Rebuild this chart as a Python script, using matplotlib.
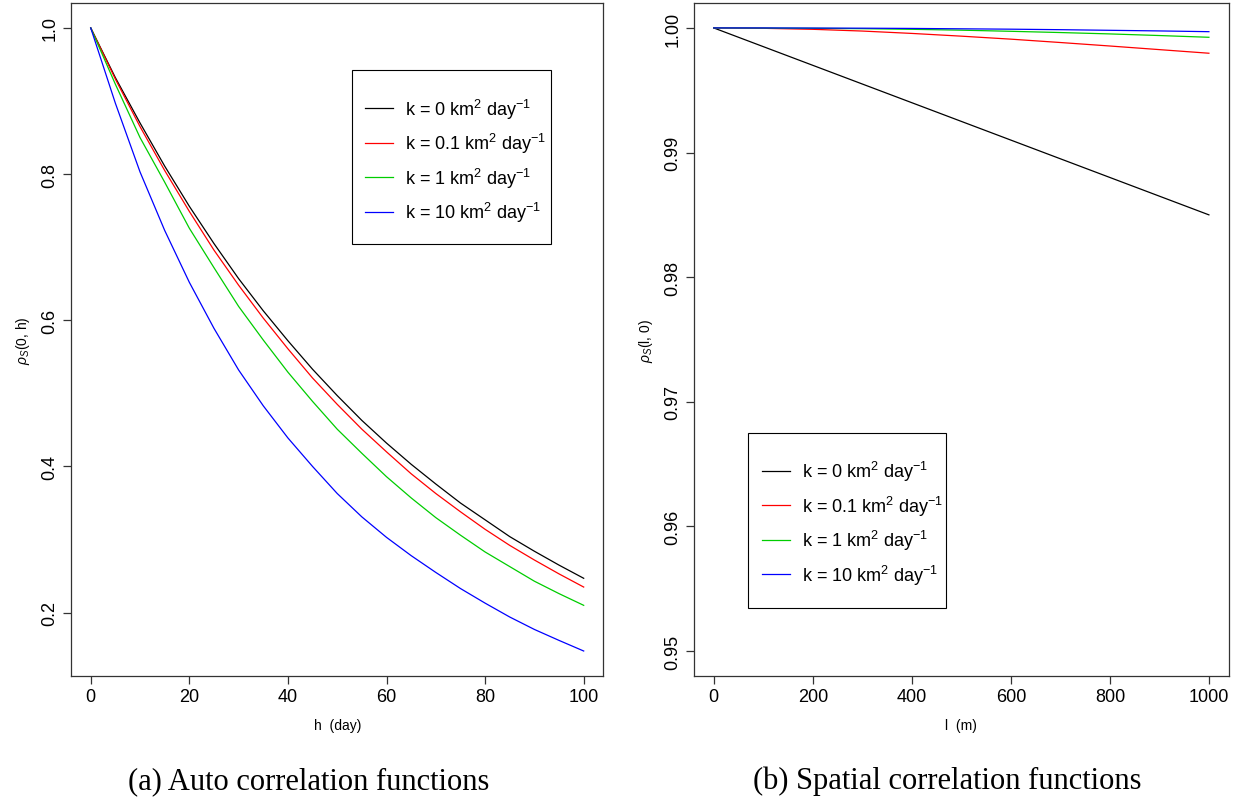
import numpy as np
import matplotlib
import matplotlib.pyplot as plt
from matplotlib.patches import Rectangle
matplotlib.use('Agg')

plt.rcParams['font.family'] = ['Liberation Sans', 'DejaVu Sans']
plt.rcParams['mathtext.fontset'] = 'custom'
plt.rcParams['mathtext.rm'] = 'Liberation Sans'
plt.rcParams['mathtext.it'] = 'Liberation Sans:italic'
plt.rcParams['mathtext.bf'] = 'Liberation Sans:bold'

# data
h_days = [0, 5, 10, 15, 20, 25, 30, 35, 40, 45, 50, 55, 60, 65, 70, 75, 80, 85, 90, 95, 100]
auto_k0 = [1.0, 0.932, 0.870, 0.811, 0.756, 0.705, 0.657, 0.613, 0.572, 0.533, 0.497,
           0.463, 0.432, 0.403, 0.376, 0.350, 0.327, 0.304, 0.284, 0.265, 0.247]
auto_k01 = [1.0, 0.930, 0.865, 0.805, 0.749, 0.696, 0.648, 0.603, 0.561, 0.521, 0.485,
            0.451, 0.420, 0.390, 0.363, 0.338, 0.314, 0.292, 0.272, 0.253, 0.235]
auto_k1 = [1.0, 0.923, 0.850, 0.789, 0.726, 0.672, 0.619, 0.573, 0.529, 0.489, 0.451,
           0.418, 0.386, 0.357, 0.330, 0.306, 0.283, 0.263, 0.243, 0.226, 0.210]
auto_k10 = [1.0, 0.897, 0.803, 0.723, 0.652, 0.589, 0.532, 0.483, 0.439, 0.400, 0.363,
            0.331, 0.303, 0.278, 0.255, 0.233, 0.213, 0.194, 0.177, 0.162, 0.1475]

l_m = [0, 100, 200, 300, 400, 500, 600, 700, 800, 900, 1000]
spat_k0 = [1.0, 0.9985, 0.9970, 0.9955, 0.9940, 0.9925, 0.9910, 0.9895, 0.9880, 0.9865, 0.9850]
spat_k01 = [1.0, 0.99997, 0.99989, 0.99975, 0.99956, 0.99934, 0.99910, 0.99883, 0.99855, 0.99826, 0.99797]
spat_k1 = [1.0, 0.99999, 0.99997, 0.99994, 0.99989, 0.99982, 0.99973, 0.99963, 0.99952, 0.99939, 0.99925]
spat_k10 = [1.0, 1.0, 0.99999, 0.99998, 0.99996, 0.99993, 0.99990, 0.99986, 0.99981, 0.99976, 0.99970]

labels = ['k = 0 km$^{2}$ day$^{-1}$', 'k = 0.1 km$^{2}$ day$^{-1}$',
          'k = 1 km$^{2}$ day$^{-1}$', 'k = 10 km$^{2}$ day$^{-1}$']
colors = ['black', '#FF0000', '#00CD00', '#0000FF']

fig = plt.figure(figsize=(12.37, 8.03), dpi=100)
ax1 = fig.add_axes([0.0574, 0.157, 0.4304, 0.838])
ax2 = fig.add_axes([0.561, 0.157, 0.4323, 0.838])


def style_axes(ax):
    for sp in ax.spines.values():
        sp.set_linewidth(0.9)
        sp.set_color('#333333')
    ax.tick_params(direction='out', length=6, width=0.9, labelsize=13, pad=3, color='#333333')
    for t in ax.get_yticklabels():
        t.set_rotation(90)
        t.set_va('center')


# R-style legend: tight rows inside a box with roomy padding
def add_legend(ax, anchor, box):
    ax.legend(loc='upper left', bbox_to_anchor=anchor, fontsize=13, frameon=False,
              handlelength=1.55, handletextpad=0.66, labelspacing=0.58,
              borderpad=0, borderaxespad=0)
    ax.add_patch(Rectangle((box[0], box[1]), box[2], box[3], transform=ax.transAxes,
                           fill=False, edgecolor='black', lw=0.8, zorder=5))


for ys, c, lab in zip([auto_k0, auto_k01, auto_k1, auto_k10], colors, labels):
    ax1.plot(h_days, ys, color=c, lw=0.9, label=lab)
ax1.set_xlim(-4, 104)
ax1.set_ylim(0.1134, 1.0341)
ax1.set_xticks([0, 20, 40, 60, 80, 100])
ax1.set_yticks([0.2, 0.4, 0.6, 0.8, 1.0])
ax1.set_yticklabels(['0.2', '0.4', '0.6', '0.8', '1.0'])
ax1.set_xlabel('h  (day)', fontsize=10, labelpad=9)
ax1.set_ylabel(r'$\rho_S$(0, h)', fontsize=10, labelpad=7)
style_axes(ax1)
add_legend(ax1, (0.5522, 0.861), (0.528, 0.6419, 0.3736, 0.2585))

for ys, c, lab in zip([spat_k0, spat_k01, spat_k1, spat_k10], colors, labels):
    ax2.plot(l_m, ys, color=c, lw=0.9, label=lab)
ax2.set_xlim(-40, 1040)
ax2.set_ylim(0.948, 1.002)
ax2.set_xticks([0, 200, 400, 600, 800, 1000])
ax2.set_yticks([0.95, 0.96, 0.97, 0.98, 0.99, 1.00])
ax2.set_yticklabels(['0.95', '0.96', '0.97', '0.98', '0.99', '1.00'])
ax2.set_xlabel('l  (m)', fontsize=10, labelpad=9)
ax2.set_ylabel(r'$\rho_S$(l, 0)', fontsize=10, labelpad=7)
style_axes(ax2)
add_legend(ax2, (0.1266, 0.3224), (0.101, 0.101, 0.370, 0.260))

fig.text(0.2494, 0.027, '(a) Auto correlation functions', family='Liberation Serif',
         fontsize=22, ha='center', va='center')
fig.text(0.766, 0.027, '(b) Spatial correlation functions', family='Liberation Serif',
         fontsize=22, ha='center', va='center')

fig.savefig('out.png', dpi=100)
